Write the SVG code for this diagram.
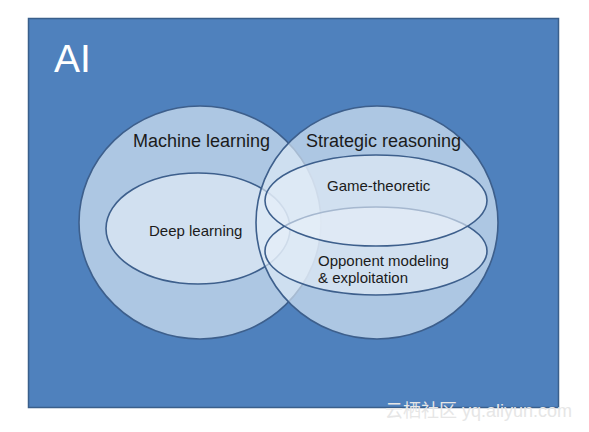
<svg xmlns="http://www.w3.org/2000/svg" width="589" height="432" viewBox="0 0 589 432">
<style>
.set{fill:#e0ecf7;fill-opacity:0.65;stroke:#3d5f8c;stroke-width:1.6}
.sub{fill:#e6eff8;fill-opacity:0.62;stroke:#3d5f8c;stroke-width:1.6}
.lbl{font-family:"Liberation Sans",Arial,sans-serif;fill:#1b1b1b}
</style>
<rect x="0" y="0" width="589" height="432" fill="#ffffff"/>
<g id="ai">
<rect x="28.5" y="18.5" width="530" height="389" fill="#4f81bd" stroke="#3a5f8b" stroke-width="1.5"/>
<text x="54" y="72" font-family="'Liberation Sans',Arial,sans-serif" font-size="39" fill="#ffffff">AI</text>
</g>
<g id="machine-learning">
<ellipse class="set" cx="200" cy="222.5" rx="121" ry="116.5"/>
<text class="lbl" x="133" y="147" font-size="18">Machine learning</text>
</g>
<g id="deep-learning">
<ellipse class="sub" cx="198" cy="228.5" rx="92" ry="55.5"/>
<text class="lbl" x="149" y="236" font-size="15">Deep learning</text>
</g>
<g id="strategic-reasoning">
<ellipse class="set" cx="377" cy="222.5" rx="121" ry="116.5"/>
<text class="lbl" x="306" y="147" font-size="18">Strategic reasoning</text>
</g>
<g id="opponent-modeling">
<ellipse class="sub" cx="376" cy="251" rx="111" ry="44"/>
<text class="lbl" x="318" y="266" font-size="15">Opponent modeling</text>
<text class="lbl" x="318" y="283" font-size="15">&amp; exploitation</text>
</g>
<g id="game-theoretic">
<ellipse class="sub" cx="376" cy="200.5" rx="111" ry="45.5"/>
<text class="lbl" x="327" y="191" font-size="15">Game-theoretic</text>
</g>
<g id="watermark">
<text x="385" y="417" font-family="'Liberation Sans','Noto Sans CJK SC',sans-serif" font-size="18" fill="#e6e6e6">云栖社区 yq.aliyun.com</text>
</g>
</svg>
